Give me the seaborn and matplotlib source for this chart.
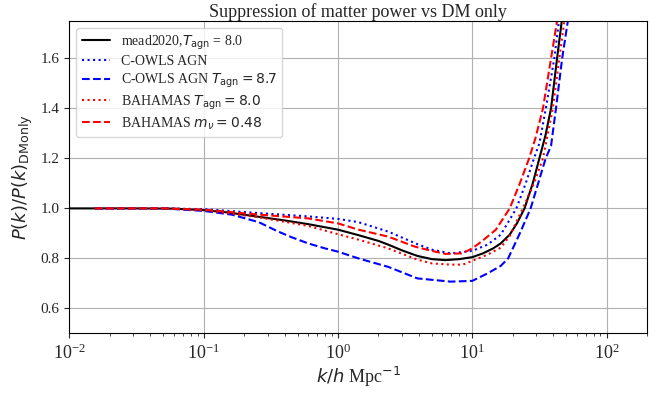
import numpy as np
import pandas as pd
import matplotlib
matplotlib.use("Agg")
import matplotlib.pyplot as plt
import seaborn as sns

# ---- data ----
mead_k = [0.01, 0.03, 0.06, 0.1, 0.15, 0.26, 0.4, 0.6, 1.0, 1.42, 2.0, 2.37, 3.0, 3.9,
          5.0, 6.3, 8.0, 10.0, 12.0, 14.3, 16.3, 19.0, 21.5, 24.5, 28.2, 31.6, 35.0,
          38.6, 42.8, 46.4, 50.0]
mead_r = [1.0, 1.0, 0.999, 0.993, 0.984, 0.966, 0.952, 0.937, 0.915, 0.893, 0.87, 0.855,
          0.832, 0.81, 0.797, 0.793, 0.797, 0.805, 0.82, 0.84, 0.86, 0.895, 0.94, 1.0,
          1.1, 1.2, 1.29, 1.4, 1.6, 1.75, 1.9]

cowls_k = [0.0155, 0.05, 0.1, 0.26, 0.6, 1.0, 1.42, 2.37, 3.9, 5.0, 6.9, 10.0, 13.0,
           16.3, 21.3, 25.0, 28.8, 31.6, 35.3, 40.8, 44.2, 48.0]
cowls_r = [1.0, 1.0, 0.997, 0.981, 0.968, 0.958, 0.945, 0.907, 0.857, 0.835, 0.82, 0.83,
           0.855, 0.895, 1.0, 1.1, 1.2, 1.26, 1.4, 1.6, 1.75, 1.9]

cowls87_k = [0.0155, 0.05, 0.1, 0.162, 0.257, 0.35, 0.45, 0.6, 0.8, 1.0, 1.42, 2.37,
             3.9, 6.9, 10.0, 13.0, 16.3, 18.5, 22.6, 27.2, 35.2, 38.6, 42.0, 46.7,
             51.5, 55.0]
cowls87_r = [1.0, 1.0, 0.99, 0.975, 0.945, 0.91, 0.885, 0.86, 0.84, 0.827, 0.80, 0.766,
             0.72, 0.707, 0.71, 0.74, 0.77, 0.80, 0.90, 1.0, 1.2, 1.25, 1.4, 1.6,
             1.75, 1.9]

bah80_k = [0.0155, 0.05, 0.1, 0.26, 0.6, 0.95, 1.42, 2.37, 3.9, 5.0, 6.9, 8.5, 10.0,
           13.0, 16.3, 19.0, 23.8, 28.8, 33.6, 39.8, 44.5, 48.5, 52.0]
bah80_r = [1.0, 1.0, 0.993, 0.964, 0.93, 0.9, 0.875, 0.84, 0.795, 0.78, 0.775, 0.775,
           0.79, 0.815, 0.843, 0.89, 1.0, 1.1, 1.2, 1.4, 1.6, 1.75, 1.9]

bahnu_k = [0.0155, 0.05, 0.1, 0.26, 0.6, 1.0, 1.42, 2.37, 3.74, 5.0, 6.3, 8.4, 10.0,
           11.7, 15.0, 19.0, 22.6, 26.5, 29.5, 33.6, 38.6, 42.8, 46.0]
bahnu_r = [1.0, 1.0, 0.995, 0.975, 0.96, 0.94, 0.915, 0.887, 0.847, 0.83, 0.818, 0.82,
           0.84, 0.867, 0.915, 1.0, 1.1, 1.2, 1.28, 1.4, 1.6, 1.75, 1.9]

labels = ['mead2020,$T_{\\rm agn}$ = 8.0',
          'C-OWLS AGN',
          'C-OWLS AGN $T_{\\rm agn}=8.7$',
          'BAHAMAS $T_{\\rm agn}=8.0$',
          'BAHAMAS $m_{\\nu}=0.48$']

xticks = [1e-2, 1e-1, 1e0, 1e1, 1e2]
yticks = [0.6, 0.8, 1.0, 1.2, 1.4, 1.6]

# ---- styling ----
sns.set_style("ticks")
plt.rcParams['font.family'] = ['Liberation Serif', 'DejaVu Serif']
plt.rcParams['mathtext.fontset'] = 'dejavusans'

fig = plt.figure(figsize=(6.67, 3.95), dpi=100)
ax = fig.add_axes([0.104, 0.156, 0.866, 0.791])
ax.set_xscale('log')

series = [
    (mead_k, mead_r, 'black', '-'),
    (cowls_k, cowls_r, 'blue', ':'),
    (cowls87_k, cowls87_r, 'blue', '--'),
    (bah80_k, bah80_r, 'red', ':'),
    (bahnu_k, bahnu_r, 'red', '--'),
]
for (k, r, c, ls), lab in zip(series, labels):
    df = pd.DataFrame({'k': k, 'r': r})
    sns.lineplot(data=df, x='k', y='r', color=c, linestyle=ls, linewidth=1.5,
                 label=lab, ax=ax, sort=False)

ax.set_xlim(0.01, 200)
ax.set_ylim(0.5, 1.75)
ax.set_xticks(xticks)
ax.set_yticks(yticks)
ax.grid(True, which='major', color='#b0b0b0', linewidth=0.8)
for s in ax.spines.values():
    s.set_visible(True)
    s.set_color('black')
    s.set_linewidth(0.8)
ax.tick_params(axis='x', which='major', labelsize=13)
ax.tick_params(axis='y', which='major', labelsize=11)
ax.set_xlabel('$k/h$ Mpc$^{-1}$', fontsize=13, labelpad=2)
ax.set_ylabel('$P(k)/P(k)_{\\rm DMonly}$', fontsize=13)
ax.set_title('Suppression of matter power vs DM only', fontsize=13, pad=3)
ax.legend(loc='upper left', fontsize=10, frameon=True, labelspacing=0.25,
          borderaxespad=0.5)

fig.savefig('out.png', dpi=100)
